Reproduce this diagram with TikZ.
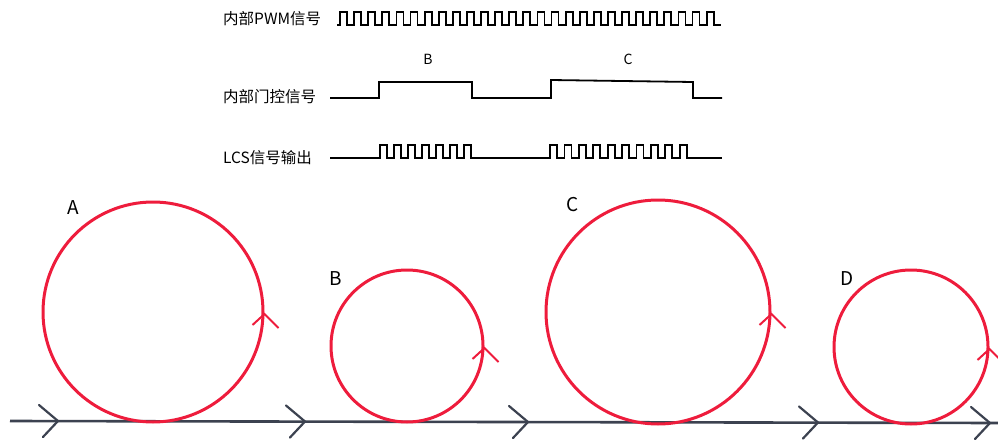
\documentclass[tikz,border=0pt]{standalone}
\usepackage{fontspec}
\setmainfont{Noto Sans CJK SC}
\begin{document}
\begin{tikzpicture}[x=1pt,y=-1pt,
  wave/.style={line width=1.8pt,black,line join=miter},
  siglabel/.style={anchor=west,inner sep=0pt,font=\fontsize{15.5}{16}\selectfont},
  seglabel/.style={inner sep=0pt,font=\fontsize{14}{15}\selectfont},
  loop/.style={circle,draw=loopred,line width=3pt,inner sep=0pt},
  looplabel/.style={inner sep=0pt,font=\fontsize{19}{20}\selectfont},
  looptip/.style={draw=loopred,line width=2pt},
  axis/.style={draw=axisgray,line width=2.6pt},
  axistip/.style={draw=axisgray,line width=2.2pt,line cap=round}]
\definecolor{loopred}{RGB}{238,28,60}
\definecolor{axisgray}{RGB}{60,66,80}
\useasboundingbox (0,0) rectangle (998,444);

% signal names
\node[siglabel] (pwmname) at (223,19) {内部PWM信号};
\node[siglabel] (gatename) at (223,97) {内部门控信号};
\node[siglabel] (lcsname) at (223,158) {LCS信号输出};
\node[seglabel] (segB) at (428,59) {B};
\node[seglabel] (segC) at (628,59) {C};

% internal PWM pulse train
\draw[wave] (337,25) -- (340,25)
  \foreach \i in {1,...,27}{ -- ++(0,-13) -- ++(7,0) -- ++(0,13) -- ++(7.1,0) };

% gate signal
\draw[wave] (330,98) -- (379,98) -- (379,82) -- (472,82) -- (472,98)
  -- (551,98) -- (551,80) -- (693,82) -- (693,98) -- (722,98);

% gated LCS output
\draw[wave] (330,158) -- (380,158)
  \foreach \i in {1,...,7}{ -- ++(0,-13) -- ++(7,0) -- ++(0,13) -- ++(7,0) }
  -- (550,158)
  \foreach \i in {1,...,10}{ -- ++(0,-13) -- ++(7,0) -- ++(0,13) -- ++(7.4,0) }
  -- (722,158);

% time axis
\coordinate (axL) at (10,421);
\coordinate (axR) at (998,423);
\draw[axis] (axL) -- (axR);
\foreach \x/\y in {58/421,305/421.5,528/422,818/422.5,990/423}{
  \draw[axistip] (\x-19,\y-16) -- (\x,\y) -- (\x-15,\y+16);
}

% current loops
\node[loop,minimum size=220pt] (loopA) at (153,312) {};
\node[loop,minimum size=152pt] (loopB) at (407,346) {};
\node[loop,minimum size=224pt] (loopC) at (658,312) {};
\node[loop,minimum size=154pt] (loopD) at (911,347) {};

\node[looplabel] (labA) at (73,208) {A};
\node[looplabel] (labB) at (336,279) {B};
\node[looplabel] (labC) at (573,205) {C};
\node[looplabel] (labD) at (847,279) {D};

% direction marks on the loops
\foreach \n in {loopA,loopB,loopC,loopD}{
  \draw[looptip] ([shift={(-12,13)}]\n.east) -- ([shift={(0,2)}]\n.east) -- ([shift={(14,16)}]\n.east);
}
\end{tikzpicture}
\end{document}
